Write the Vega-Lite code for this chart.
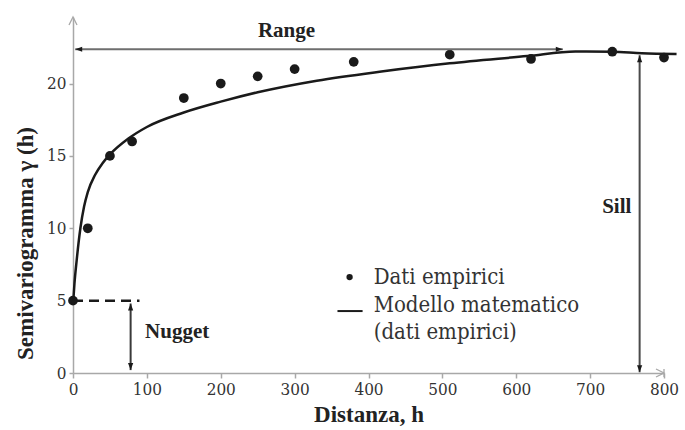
{
  "$schema": "https://vega.github.io/schema/vega-lite/v6.json",
  "width": 591,
  "height": 356,
  "autosize": {"type": "none"},
  "padding": {"left": 73, "top": 17, "right": 21, "bottom": 57},
  "background": "white",
  "config": {"view": {"stroke": null}},
  "datasets": {
    "empirical": [
      {"x": 0, "y": 5}, {"x": 20, "y": 10}, {"x": 50, "y": 15}, {"x": 80, "y": 16},
      {"x": 150, "y": 19}, {"x": 200, "y": 20}, {"x": 250, "y": 20.5}, {"x": 300, "y": 21},
      {"x": 380, "y": 21.5}, {"x": 510, "y": 22}, {"x": 620, "y": 21.7}, {"x": 730, "y": 22.2},
      {"x": 800, "y": 21.8}
    ],
    "model": [
      {"x": 0, "y": 4.7}, {"x": 2, "y": 6.2}, {"x": 5, "y": 7.8}, {"x": 10, "y": 10.0},
      {"x": 15, "y": 11.5}, {"x": 20, "y": 12.5}, {"x": 30, "y": 13.7}, {"x": 40, "y": 14.5},
      {"x": 50, "y": 15.1}, {"x": 75, "y": 16.2}, {"x": 100, "y": 17.0}, {"x": 150, "y": 18.0},
      {"x": 200, "y": 18.75}, {"x": 250, "y": 19.4}, {"x": 330, "y": 20.2}, {"x": 420, "y": 20.85},
      {"x": 510, "y": 21.4}, {"x": 615, "y": 21.9}, {"x": 680, "y": 22.22}, {"x": 730, "y": 22.2},
      {"x": 770, "y": 22.1}, {"x": 817, "y": 22.05}
    ],
    "arrows": [
      {"x": 3, "x2": 663, "y": 22.37, "y2": 22.37, "kind": "range"},
      {"x": 767, "x2": 767, "y": 0.05, "y2": 21.95, "kind": "sill"},
      {"x": 78, "x2": 78, "y": 0.2, "y2": 4.8, "kind": "nugget"}
    ],
    "heads": [
      {"x": 3, "y": 22.37, "dir": "left"},
      {"x": 663, "y": 22.37, "dir": "right"},
      {"x": 767, "y": 21.95, "dir": "up"},
      {"x": 767, "y": 0.05, "dir": "down"},
      {"x": 78, "y": 4.8, "dir": "up"},
      {"x": 78, "y": 0.2, "dir": "down"}
    ],
    "labels": [
      {"x": 289, "y": 23.6, "label": "Range"},
      {"x": 736, "y": 11.5, "label": "Sill"},
      {"x": 141, "y": 2.83, "label": "Nugget"}
    ],
    "legendText": [
      {"x": 407, "y": 6.62, "label": "Dati empirici"},
      {"x": 407, "y": 4.68, "label": "Modello matematico"},
      {"x": 407, "y": 2.83, "label": "(dati empirici)"}
    ]
  },
  "layer": [
    {
      "data": {"name": "empirical"},
      "mark": {"type": "point", "filled": true, "size": 95, "shape": "circle", "color": "#1a1a1a", "opacity": 1},
      "encoding": {
        "x": {
          "field": "x", "type": "quantitative",
          "scale": {"domain": [0, 800], "nice": false, "zero": false},
          "axis": {
            "title": "Distanza, h",
            "values": [0, 100, 200, 300, 400, 500, 600, 700, 800],
            "grid": false,
            "domainColor": "#a8a8a8", "domainWidth": 1.5,
            "tickColor": "#a8a8a8", "tickWidth": 1.5, "tickSize": 5,
            "labelFont": "DejaVu Serif Condensed, DejaVu Serif", "labelFontSize": 17, "labelColor": "#333",
            "labelPadding": 3, "labelFlush": false, "labelOverlap": false,
            "titleFont": "Liberation Serif", "titleFontSize": 23, "titleFontWeight": "bold", "titleColor": "#222",
            "titleY": 41, "titleBaseline": "middle"
          }
        },
        "y": {
          "field": "y", "type": "quantitative",
          "scale": {"domain": [0, 24.6], "nice": false, "zero": false},
          "axis": {
            "title": "Semivariogramma γ (h)",
            "values": [0, 5, 10, 15, 20],
            "grid": false,
            "domainColor": "#a8a8a8", "domainWidth": 1.5,
            "tickColor": "#a8a8a8", "tickWidth": 1.5, "tickSize": 4,
            "labelFont": "DejaVu Serif Condensed, DejaVu Serif", "labelFontSize": 17, "labelColor": "#333",
            "labelPadding": 3, "labelFlush": false, "labelOverlap": false,
            "titleFont": "Liberation Serif", "titleFontSize": 23, "titleFontWeight": "bold", "titleColor": "#222",
            "titleAngle": 270, "titleX": -48, "titleY": 226, "titleBaseline": "middle", "titleAlign": "center"
          }
        }
      }
    },
    {
      "data": {"name": "model"},
      "mark": {"type": "line", "color": "#1a1a1a", "strokeWidth": 2.5, "interpolate": "monotone"},
      "encoding": {
        "x": {"field": "x", "type": "quantitative"},
        "y": {"field": "y", "type": "quantitative"}
      }
    },
    {
      "data": {"values": [{"x": 0, "x2": 90, "y": 5}]},
      "mark": {"type": "rule", "color": "#1a1a1a", "strokeWidth": 2.5, "strokeDash": [10, 6]},
      "encoding": {
        "x": {"field": "x", "type": "quantitative"},
        "x2": {"field": "x2"},
        "y": {"field": "y", "type": "quantitative"}
      }
    },
    {
      "data": {"name": "arrows"},
      "mark": {"type": "rule", "strokeWidth": 2},
      "encoding": {
        "x": {"field": "x", "type": "quantitative"},
        "x2": {"field": "x2"},
        "y": {"field": "y", "type": "quantitative"},
        "y2": {"field": "y2"},
        "color": {
          "field": "kind", "type": "nominal",
          "scale": {"domain": ["range", "sill", "nugget"], "range": ["#6e6e6e", "#4a4a4a", "#3a3a3a"]},
          "legend": null
        }
      }
    },
    {
      "data": {"name": "heads"},
      "mark": {"type": "point", "filled": true, "size": 16, "color": "#1a1a1a", "opacity": 1},
      "encoding": {
        "x": {"field": "x", "type": "quantitative"},
        "y": {"field": "y", "type": "quantitative"},
        "shape": {
          "field": "dir", "type": "nominal",
          "scale": {
            "domain": ["left", "right", "up", "down"],
            "range": ["M0,0L3.5,-1.3L3.5,1.3Z", "M0,0L-3.5,-1.3L-3.5,1.3Z", "M0,0L-1.3,3.5L1.3,3.5Z", "M0,0L-1.3,-3.5L1.3,-3.5Z"]
          },
          "legend": null
        }
      }
    },
    {
      "data": {"values": [{"x": 0, "y": 24.6}]},
      "mark": {"type": "point", "filled": false, "size": 16, "shape": "M-2,4L0,0L2,4", "color": "#a8a8a8", "strokeWidth": 1.3, "opacity": 1},
      "encoding": {
        "x": {"field": "x", "type": "quantitative"},
        "y": {"field": "y", "type": "quantitative"}
      }
    },
    {
      "data": {"values": [{"x": 800, "y": 0}]},
      "mark": {"type": "point", "filled": false, "size": 16, "shape": "M-4,-2L0,0L-4,2M0,-2L0,2", "color": "#a8a8a8", "strokeWidth": 1.3, "opacity": 1},
      "encoding": {
        "x": {"field": "x", "type": "quantitative"},
        "y": {"field": "y", "type": "quantitative"}
      }
    },
    {
      "data": {"name": "labels"},
      "mark": {"type": "text", "font": "Liberation Serif", "fontSize": 21, "fontWeight": "bold", "color": "#222", "baseline": "middle", "align": "center"},
      "encoding": {
        "x": {"field": "x", "type": "quantitative"},
        "y": {"field": "y", "type": "quantitative"},
        "text": {"field": "label"}
      }
    },
    {
      "data": {"values": [{"x": 374.4, "y": 6.63}]},
      "mark": {"type": "point", "filled": true, "size": 40, "shape": "circle", "color": "#1a1a1a", "opacity": 1},
      "encoding": {
        "x": {"field": "x", "type": "quantitative"},
        "y": {"field": "y", "type": "quantitative"}
      }
    },
    {
      "data": {"values": [{"x": 358, "x2": 392, "y": 4.28}]},
      "mark": {"type": "rule", "color": "#1a1a1a", "strokeWidth": 2},
      "encoding": {
        "x": {"field": "x", "type": "quantitative"},
        "x2": {"field": "x2"},
        "y": {"field": "y", "type": "quantitative"}
      }
    },
    {
      "data": {"name": "legendText"},
      "mark": {"type": "text", "font": "DejaVu Serif Condensed, DejaVu Serif", "fontSize": 22, "color": "#333", "baseline": "middle", "align": "left"},
      "encoding": {
        "x": {"field": "x", "type": "quantitative"},
        "y": {"field": "y", "type": "quantitative"},
        "text": {"field": "label"}
      }
    }
  ]
}
